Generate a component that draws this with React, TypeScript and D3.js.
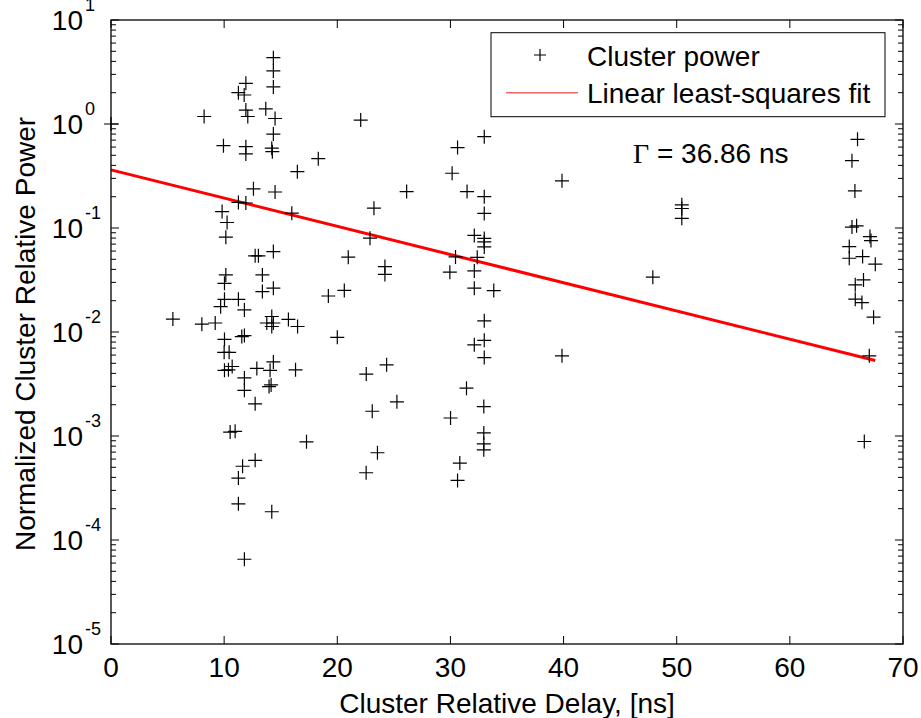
import React from "react";
import * as d3 from "d3";

// Cluster relative delay [ns]
const clusterDelay: number[] = [
  0,
  14.35, 14.35, 14.35, 11.92, 11.26, 11.77, 8.23, 11.92, 13.68, 12.09, 14.5, 14.35,
  9.94, 11.92, 11.92, 14.21, 14.26, 12.59, 14.5, 11.26, 11.92, 9.82, 10.26, 10.15,
  12.74, 13.03, 14.35, 10.15, 13.38, 10.03, 13.38, 14.35, 10.03, 11.26, 9.69, 11.79,
  5.47, 8.03, 9.21, 14.21, 13.77, 14.35, 14.21, 15.68, 10.03, 11.56, 11.79, 10.0,
  10.44, 14.35, 10.71, 10.38, 10.03, 12.89, 14.06, 11.79, 11.79, 14.15, 13.97, 12.74,
  10.53, 10.97, 12.74, 11.63, 11.26, 11.26, 14.21, 11.79,
  15.98, 16.47, 18.32, 22.07, 26.13, 23.24, 22.89, 20.97, 24.21, 24.21, 19.21, 20.62,
  16.49, 20.0, 16.31, 22.56, 24.36, 25.27, 23.09, 17.28, 23.55, 22.55,
  32.99, 30.63, 30.15, 31.47, 32.99, 32.99, 32.11, 32.99, 32.99, 32.99, 32.37, 30.45,
  29.95, 32.11, 32.11, 33.83, 32.99, 32.99, 32.11, 32.99, 31.42, 30.01, 32.95, 32.95,
  32.95, 32.95, 30.83, 30.63,
  39.86, 39.86, 47.89, 50.45, 50.45, 50.45,
  65.98, 65.49, 65.75, 65.9, 65.49, 67.08, 67.17, 65.25, 65.25, 66.43, 67.55, 66.51,
  65.78, 65.78, 66.37, 67.4, 67.02, 66.58,
];

// Normalized cluster relative power
const clusterPower: number[] = [
  1.0,
  4.34, 3.24, 2.27, 2.46, 2.0, 1.9, 1.18, 1.36, 1.4, 1.18, 1.13, 0.8,
  0.619, 0.605, 0.515, 0.585, 0.542, 0.238, 0.222, 0.176, 0.174, 0.144, 0.113, 0.0817,
  0.054, 0.054, 0.0593, 0.0354, 0.0354, 0.0294, 0.0245, 0.0264, 0.0206, 0.0206, 0.0175, 0.0163,
  0.0133, 0.0119, 0.0122, 0.0141, 0.0122, 0.0122, 0.0113, 0.0132, 0.00849, 0.00904, 0.00924, 0.00637,
  0.00637, 0.00516, 0.00466, 0.00433, 0.00428, 0.00446, 0.00428, 0.00362, 0.00275, 0.0031, 0.00299, 0.00204,
  0.00109, 0.00111, 0.000583, 0.000512, 0.000394, 0.000223, 0.000187, 0.0000653,
  0.139, 0.348, 0.464, 1.09, 0.224, 0.155, 0.0798, 0.0524, 0.0426, 0.0358, 0.0222, 0.0251,
  0.0113, 0.00889, 0.00433, 0.00394, 0.00483, 0.00213, 0.00173, 0.000879, 0.00069, 0.000443,
  0.755, 0.593, 0.336, 0.224, 0.2, 0.138, 0.0849, 0.0794, 0.0735, 0.0658, 0.0522, 0.0527,
  0.0376, 0.0387, 0.0264, 0.025, 0.0128, 0.00832, 0.00753, 0.00568, 0.00288, 0.00149, 0.00192, 0.00107,
  0.000841, 0.000737, 0.000549, 0.000374,
  0.284, 0.0059, 0.0337, 0.167, 0.154, 0.124,
  0.713, 0.444, 0.227, 0.105, 0.102, 0.0827, 0.0757, 0.0663, 0.0512, 0.0531, 0.0449, 0.0317,
  0.0284, 0.0207, 0.0192, 0.0139, 0.0059, 0.000885,
];

// Linear least-squares fit endpoints (delay ns, power)
const fitDelay: number[] = [0, 67.55];
const fitPower: number[] = [0.362, 0.00532];

const xTicks: number[] = [0, 10, 20, 30, 40, 50, 60, 70];
const yDecades: number[] = [1, 0, -1, -2, -3, -4, -5];

const legendLabels: string[] = ["Cluster power", "Linear least-squares fit"];
const xLabel = "Cluster Relative Delay, [ns]";
const yLabel = "Normalized Cluster Relative Power";
const gammaText = " = 36.86 ns";

const W = 921;
const H = 718;
const L = 111, R = 903, T = 20, B = 644;
const FONT = "'Liberation Sans', Arial, Helvetica, sans-serif";

export default function App() {
  const x = d3.scaleLinear().domain([0, 70]).range([L, R]);
  const y = d3.scaleLog().domain([1e-5, 10]).range([B, T]);

  const minor: number[] = [];
  for (let d = -5; d < 1; d++) {
    for (let k = 2; k <= 9; k++) minor.push(k * Math.pow(10, d));
  }

  const line = d3
    .line<number>()
    .x((_, i) => x(fitDelay[i]))
    .y((_, i) => y(fitPower[i]));

  const plus = (cx: number, cy: number, s: number, key: string | number) => (
    <path
      key={key}
      d={`M${cx - s},${cy}H${cx + s}M${cx},${cy - s}V${cy + s}`}
      stroke="#000"
      strokeWidth={1.2}
      fill="none"
    />
  );

  return (
    <svg
      width={W}
      height={H}
      style={{ position: "absolute", left: 0, top: 0, background: "#fff" }}
      fontFamily={FONT}
    >
      <rect x={0} y={0} width={W} height={H} fill="#fff" />
      {/* ticks */}
      <g stroke="#000" strokeWidth={1}>
        {xTicks.map((t) => (
          <g key={"xt" + t}>
            <line x1={x(t)} x2={x(t)} y1={B} y2={B - 8} />
            <line x1={x(t)} x2={x(t)} y1={T} y2={T + 8} />
          </g>
        ))}
        {yDecades.map((d) => (
          <g key={"yt" + d}>
            <line x1={L} x2={L + 8} y1={y(Math.pow(10, d))} y2={y(Math.pow(10, d))} />
            <line x1={R} x2={R - 8} y1={y(Math.pow(10, d))} y2={y(Math.pow(10, d))} />
          </g>
        ))}
        {minor.map((m, i) => (
          <g key={"mt" + i}>
            <line x1={L} x2={L + 5} y1={y(m)} y2={y(m)} />
            <line x1={R} x2={R - 5} y1={y(m)} y2={y(m)} />
          </g>
        ))}
      </g>

      {/* fit line */}
      <path d={line(fitDelay) || ""} stroke="#ff0000" strokeWidth={3} fill="none" />

      {/* data */}
      {clusterDelay.map((d, i) => plus(x(d), y(clusterPower[i]), 7, "p" + i))}

      {/* axes box */}
      <rect x={L} y={T} width={R - L} height={B - T} fill="none" stroke="#000" strokeWidth={1.3} />

      {/* x tick labels */}
      {xTicks.map((t) => (
        <text key={"xl" + t} x={x(t)} y={677} fontSize={28} textAnchor="middle" fill="#000">
          {t}
        </text>
      ))}
      {/* y tick labels */}
      {yDecades.map((d) => {
        const yy = y(Math.pow(10, d));
        return (
          <g key={"yl" + d}>
            <text x={83} y={yy + 10} fontSize={28} textAnchor="end" fill="#000">
              10
            </text>
            <text x={85} y={yy - 9.5} fontSize={18} textAnchor="start" fill="#000">
              {String(d)}
            </text>
          </g>
        );
      })}

      {/* axis labels */}
      <text x={(L + R) / 2} y={713} fontSize={28} textAnchor="middle" fill="#000">
        {xLabel}
      </text>
      <text
        transform={`translate(35, ${(T + B) / 2 + 2}) rotate(-90)`}
        fontSize={28}
        textAnchor="middle"
        fill="#000"
      >
        {yLabel}
      </text>

      {/* legend */}
      <rect x={491} y={32.7} width={394} height={84} fill="#fff" stroke="#000" strokeWidth={1} />
      {plus(540, 55, 6, "leg")}
      <text x={587} y={66} fontSize={28} fill="#000">
        {legendLabels[0]}
      </text>
      <line x1={506} x2={578} y1={92.7} y2={92.7} stroke="#f06868" strokeWidth={1.5} />
      <text x={587} y={103.3} fontSize={28} fill="#000">
        {legendLabels[1]}
      </text>

      {/* annotation */}
      <text x={633} y={163.3} fontSize={28} fill="#000">
        <tspan fontFamily="'Liberation Serif', 'Times New Roman', serif">Γ</tspan>
        <tspan>{gammaText}</tspan>
      </text>
    </svg>
  );
}
